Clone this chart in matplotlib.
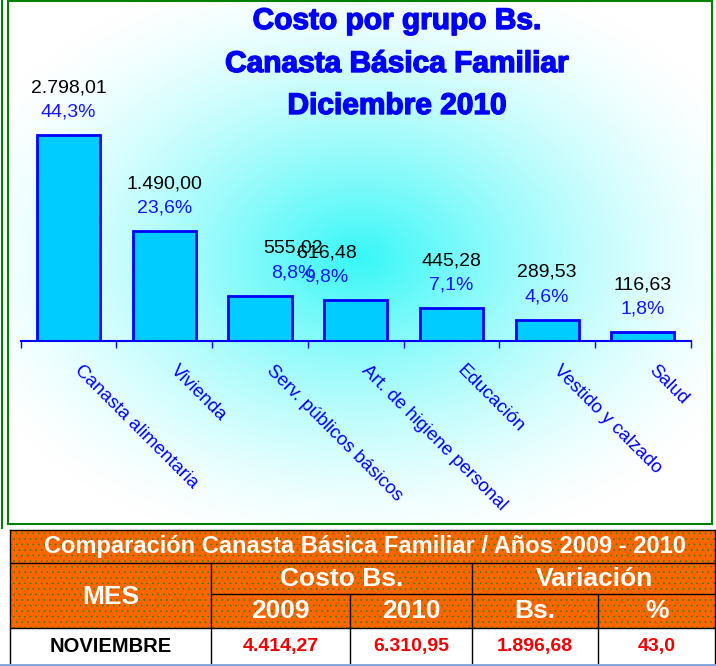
import numpy as np
import matplotlib
matplotlib.use('Agg')
import matplotlib.pyplot as plt
import matplotlib.patheffects as pe
from matplotlib.patches import Rectangle

# ---------------- data ----------------
categories = ["Canasta alimentaria", "Vivienda", "Serv. públicos básicos",
              "Art. de higiene personal", "Educación", "Vestido y calzado", "Salud"]
bar_values = [2798.01, 1490.00, 616.48, 555.02, 445.28, 289.53, 116.63]
value_labels = ["2.798,01", "1.490,00", "555,02", "616,48", "445,28", "289,53", "116,63"]
pct_labels = ["44,3%", "23,6%", "8,8%", "9,8%", "7,1%", "4,6%", "1,8%"]
title_lines = ["Costo por grupo Bs.", "Canasta Básica Familiar", "Diciembre 2010"]

table_title = "Comparación Canasta Básica Familiar / Años 2009 - 2010"
header_mes = "MES"
header_costo = "Costo Bs."
header_var = "Variación"
sub_headers = ["2009", "2010", "Bs.", "%"]
month = "NOVIEMBRE"
row_values = ["4.414,27", "6.310,95", "1.896,68", "43,0"]

# label shifts (style) in points for overlapping labels
label_dx = [0, 0, 24, -21, 0, 0, 0]

plt.rcParams['font.family'] = ['Liberation Sans', 'DejaVu Sans']
plt.rcParams['hatch.linewidth'] = 0.4

W, H = 716, 666
fig = plt.figure(figsize=(W / 100, H / 100), dpi=100)
bg = fig.add_axes([0, 0, 1, 1])
bg.set_xlim(0, W)
bg.set_ylim(H, 0)
bg.axis('off')

# gradient background of the chart area
xs = np.arange(8, 712) + 0.5
ys = np.arange(0, 524) + 0.5
X, Y = np.meshgrid(xs, ys)
d = np.sqrt(((X - 360) / 420) ** 2 + ((Y - 258) / 300) ** 2)
t = np.clip(1 - d, 0, 1) ** 1.5
r = 255 - 200 * t
g = 255 - 8 * t
b = 255 - 8 * t
img = np.dstack([r, g, b]) / 255.0
bg.imshow(img, extent=(8, 712, 524, 0), aspect='auto', zorder=0, interpolation='bilinear')

bg.add_patch(Rectangle((8, 0.5), 704, 523.5, fill=False, edgecolor='#008000', lw=1.5, zorder=2))
bg.plot([2, 2], [0, 528], color='#008000', lw=1.5, zorder=2)

title_y = [21, 64, 106]
for line, yy in zip(title_lines, title_y):
    bg.text(397, yy, line, ha='center', va='center', fontsize=21.5, fontweight='bold',
            color='#0000FF', zorder=3,
            path_effects=[pe.withStroke(linewidth=1.0, foreground='#0000FF')])

# ---------------- bar chart ----------------
ax = fig.add_axes([20.7 / W, (H - 341) / H, 670 / W, 221 / H])
ax.patch.set_alpha(0)
ax.set_xlim(-0.5, 6.5)
ax.set_ylim(0, 3000)
x = np.arange(len(categories))
ax.bar(x, bar_values, width=0.66, color='#00CCFF', edgecolor='#0000FF', lw=2, zorder=2)
for s in ['top', 'left', 'right']:
    ax.spines[s].set_visible(False)
ax.spines['bottom'].set_color('#0000FF')
ax.spines['bottom'].set_linewidth(1.5)
ax.set_yticks([])
ax.set_xticks(np.arange(-0.5, 7, 1))
ax.set_xticklabels([])
ax.set_xticks(x, minor=True)
ax.tick_params(axis='x', which='major', direction='out', length=5, width=1, color='#0000FF')
ax.tick_params(axis='x', which='minor', direction='in', length=2.5, width=1, color='#0000FF')

for i in range(len(categories)):
    ax.annotate(value_labels[i], xy=(i, bar_values[i]), xytext=(label_dx[i], 34),
                textcoords='offset points', ha='center', va='center', fontsize=14,
                color='black', annotation_clip=False)
    ax.annotate(pct_labels[i], xy=(i, bar_values[i]), xytext=(label_dx[i], 16.5),
                textcoords='offset points', ha='center', va='center', fontsize=14,
                color='#1414FF', annotation_clip=False)
    ax.annotate(categories[i], xy=(i, 0), xytext=(10.5, -15), textcoords='offset points',
                rotation=-45, rotation_mode='anchor', ha='left', va='top', fontsize=13.5,
                color='#0000FF', annotation_clip=False)

# ---------------- table ----------------
orange = '#FF6600'
dot = '#2a8000'
xcol = [10, 211, 350, 472, 598, 716]
yrow = [530, 563, 594, 628, 663]

def ocell(x0, y0, x1, y1):
    bg.add_patch(Rectangle((x0, y0), x1 - x0, y1 - y0, facecolor=orange, edgecolor=dot,
                           hatch='...', lw=0, zorder=1))

ocell(xcol[0], yrow[0], xcol[5], yrow[3])
bg.add_patch(Rectangle((xcol[0], yrow[3]), xcol[5] - xcol[0], yrow[4] - yrow[3],
                       facecolor='white', edgecolor='none', zorder=1))

lk = dict(color='black', lw=1, zorder=3)
bg.plot([xcol[0], xcol[5]], [yrow[0], yrow[0]], **lk)
bg.plot([xcol[0], xcol[5]], [yrow[1], yrow[1]], **lk)
bg.plot([xcol[1], xcol[5]], [yrow[2], yrow[2]], **lk)
bg.plot([xcol[0], xcol[5]], [yrow[3], yrow[3]], **lk)
bg.plot([xcol[0], xcol[0]], [yrow[0], yrow[4]], **lk)
bg.plot([xcol[5] - 1, xcol[5] - 1], [yrow[0], yrow[4]], **lk)
bg.plot([xcol[1], xcol[1]], [yrow[1], yrow[4]], **lk)
bg.plot([xcol[2], xcol[2]], [yrow[2], yrow[4]], **lk)
bg.plot([xcol[3], xcol[3]], [yrow[1], yrow[4]], **lk)
bg.plot([xcol[4], xcol[4]], [yrow[2], yrow[4]], **lk)
bg.plot([0, W], [664.5, 664.5], color='#7f9fd8', lw=2, zorder=3)

bg.text((xcol[0] + xcol[5]) / 2 + 2, 547, table_title, ha='center', va='center', fontsize=17,
        fontweight='bold', color='white', zorder=4)
bg.text((xcol[0] + xcol[1]) / 2, (yrow[1] + yrow[3]) / 2 + 1, header_mes, ha='center', va='center',
        fontsize=19, fontweight='bold', color='white', zorder=4)
bg.text((xcol[1] + xcol[3]) / 2, (yrow[1] + yrow[2]) / 2, header_costo, ha='center', va='center',
        fontsize=19, fontweight='bold', color='white', zorder=4)
bg.text((xcol[3] + xcol[5]) / 2, (yrow[1] + yrow[2]) / 2, header_var, ha='center', va='center',
        fontsize=19, fontweight='bold', color='white', zorder=4)
for j, sh in enumerate(sub_headers):
    bg.text((xcol[j + 1] + xcol[j + 2]) / 2, (yrow[2] + yrow[3]) / 2, sh, ha='center', va='center',
            fontsize=19, fontweight='bold', color='white', zorder=4)
bg.text((xcol[0] + xcol[1]) / 2, (yrow[3] + yrow[4]) / 2 + 1, month, ha='center', va='center',
        fontsize=14.5, fontweight='bold', color='black', zorder=4)
for j, v in enumerate(row_values):
    bg.text((xcol[j + 1] + xcol[j + 2]) / 2, (yrow[3] + yrow[4]) / 2 + 1, v, ha='center', va='center',
            fontsize=14, fontweight='bold', color='#EE0000', zorder=4)

fig.savefig('out.png', dpi=100)
